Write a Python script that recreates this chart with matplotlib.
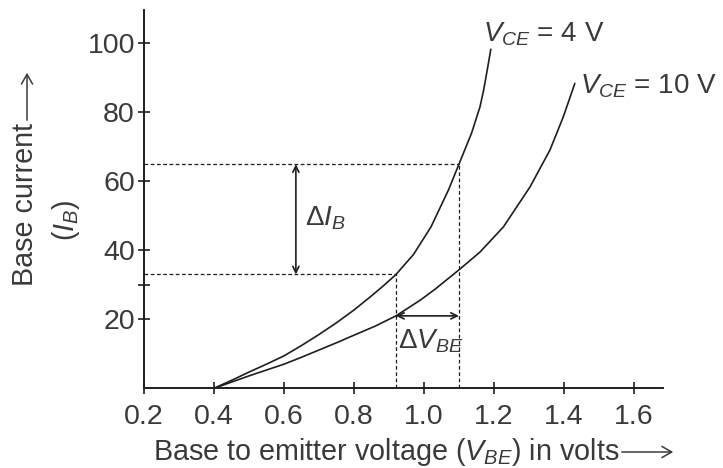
import matplotlib
matplotlib.use("Agg")
import matplotlib.pyplot as plt
from matplotlib.patches import FancyArrowPatch

# ---- data ----
vbe_4v = [0.40, 0.45, 0.50, 0.55, 0.60, 0.65, 0.70, 0.75, 0.80, 0.85, 0.885, 0.92,
          0.97, 1.02, 1.07, 1.10, 1.136, 1.16, 1.17, 1.179, 1.191]
ib_4v = [0.0, 2.3, 4.7, 7.0, 9.4, 12.4, 15.6, 19.0, 22.7, 26.8, 29.8, 33.0,
         38.8, 46.8, 57.5, 65.0, 74.0, 81.6, 86.2, 91.3, 98.3]

vbe_10v = [0.40, 0.45, 0.50, 0.55, 0.60, 0.65, 0.70, 0.75, 0.80, 0.86, 0.92, 0.99,
           1.03, 1.069, 1.103, 1.16, 1.227, 1.303, 1.36, 1.398, 1.431]
ib_10v = [0.0, 1.8, 3.6, 5.3, 7.0, 9.0, 11.1, 13.2, 15.4, 18.0, 21.0, 25.6,
          28.6, 31.8, 34.6, 39.5, 46.8, 58.4, 69.1, 78.7, 88.4]

x_ticks = [0.2, 0.4, 0.6, 0.8, 1.0, 1.2, 1.4, 1.6]
x_tick_labels = ["0.2", "0.4", "0.6", "0.8", "1.0", "1.2", "1.4", "1.6"]
y_ticks = [20, 30, 40, 60, 80, 100]
y_tick_labels = ["20", "", "40", "60", "80", "100"]

vbe_low, vbe_high = 0.92, 1.10
ib_low, ib_high = 33.0, 65.0
ib_dv = 21.0

label_4v = r"$V_{CE}$ = 4 V"
label_10v = r"$V_{CE}$ = 10 V"
x_label = r"Base to emitter voltage ($V_{BE}$) in volts"
y_label_1 = "Base current"
y_label_2 = r"($I_B$)"

# ---- style ----
plt.rcParams["font.family"] = ["Liberation Sans", "DejaVu Sans"]
plt.rcParams["mathtext.fontset"] = "custom"
plt.rcParams["mathtext.rm"] = "Liberation Sans"
plt.rcParams["mathtext.it"] = "Liberation Sans:italic"
plt.rcParams["mathtext.bf"] = "Liberation Sans:bold"

TXT = "#3a3a3a"
LN = "#1e1e1e"
FS_TICK = 20.5
FS_LAB = 20.7
FS_ANN = 20

W, H = 723, 468
fig = plt.figure(figsize=(W / 100, H / 100), dpi=100)
ax = fig.add_axes([144 / W, 1 - 388.3 / H, (663 - 144) / W, (388.3 - 10) / H])

ax.plot(vbe_4v, ib_4v, color=LN, lw=1.2, solid_capstyle="round", solid_joinstyle="round")
ax.plot(vbe_10v, ib_10v, color=LN, lw=1.2, solid_capstyle="round", solid_joinstyle="round")

dash = dict(color=LN, lw=0.9, linestyle=(0, (3, 2)))
ax.plot([0.2, vbe_high], [ib_high, ib_high], **dash)
ax.plot([0.2, vbe_low], [ib_low, ib_low], **dash)
ax.plot([vbe_high, vbe_high], [0, ib_high], **dash)
ax.plot([vbe_low, vbe_low], [0, ib_low], **dash)

arr = dict(arrowstyle="<->,head_length=0.45,head_width=0.22", color=LN, lw=1.2,
           shrinkA=0, shrinkB=0)
ax.annotate("", xy=(0.634, ib_high), xytext=(0.634, ib_low), arrowprops=arr)
ax.annotate("", xy=(vbe_low, ib_dv), xytext=(vbe_high, ib_dv), arrowprops=arr)

ax.text(0.66, 47.3, r"$\Delta I_B$", fontsize=FS_ANN, color=TXT, ha="left", va="baseline")
ax.text(0.925, 11.6, r"$\Delta V_{BE}$", fontsize=FS_ANN, color=TXT, ha="left", va="baseline")
ax.text(1.169, 100.5, label_4v, fontsize=FS_ANN, color=TXT, ha="left", va="baseline")
ax.text(1.446, 85.5, label_10v, fontsize=FS_ANN, color=TXT, ha="left", va="baseline")

ax.set_xlim(0.2, 1.683)
ax.set_ylim(0, 109.7)
ax.set_xticks(x_ticks)
ax.set_xticklabels(x_tick_labels)
ax.set_yticks(y_ticks)
ax.set_yticklabels(y_tick_labels)
ax.tick_params(axis="both", direction="inout", length=9, width=1.2, color=LN,
               labelsize=FS_TICK, labelcolor=TXT)
ax.tick_params(axis="y", pad=2)
ax.tick_params(axis="x", pad=7)
for s in ["top", "right"]:
    ax.spines[s].set_visible(False)
for s in ["left", "bottom"]:
    ax.spines[s].set_linewidth(1.4)
    ax.spines[s].set_color(LN)

# axis titles (arrows drawn as thin open-headed arrows)
fig.text(153 / W, 1 - 460 / H, x_label, fontsize=FS_LAB, color=TXT, ha="left", va="baseline")
fig.text(39 / W, 1 - 204 / H, y_label_1, fontsize=FS_LAB, color=TXT,
         rotation=90, ha="right", va="center")
fig.text(66 / W, 1 - 220 / H, y_label_2, fontsize=FS_LAB, color=TXT,
         rotation=90, ha="center", va="center")

fig.add_artist(FancyArrowPatch(
    (619 / W, 1 - 452 / H), (676 / W, 1 - 452 / H), transform=fig.transFigure,
    arrowstyle="->,head_length=7,head_width=4", color=TXT, lw=1.1, mutation_scale=1))
fig.add_artist(FancyArrowPatch(
    (27 / W, 1 - 123 / H), (27 / W, 1 - 70 / H), transform=fig.transFigure,
    arrowstyle="->,head_length=7,head_width=4", color=TXT, lw=1.1, mutation_scale=1))

fig.savefig("out.png", dpi=100)
